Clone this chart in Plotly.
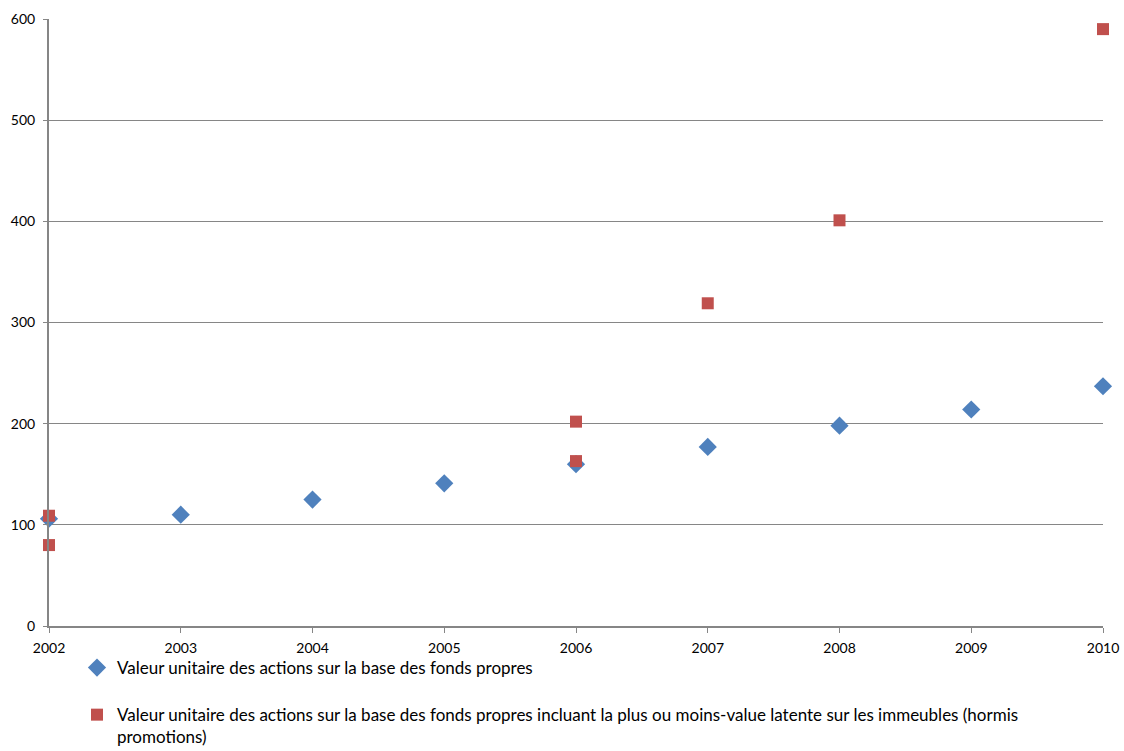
import plotly.graph_objects as go

# Share value by year (base: equity)
years_equity = [2002, 2003, 2004, 2005, 2006, 2007, 2008, 2009, 2010]
value_equity = [106, 110, 125, 141, 160, 177, 198, 214, 237]

# Share value including unrealised gains/losses on buildings
years_latent = [2002, 2002, 2006, 2006, 2007, 2008, 2010]
value_latent = [109, 80, 202, 163, 319, 401, 590]

name_equity = "Valeur unitaire des actions sur la base des fonds propres"
name_latent = ("Valeur unitaire des actions sur la base des fonds propres incluant la plus ou "
               "moins-value latente sur les immeubles (hormis<br>promotions)")

year_ticks = list(range(2002, 2011))
value_ticks = [0, 100, 200, 300, 400, 500, 600]

BLUE = "#4F81BD"
RED = "#C0504D"
AXIS = "#868686"

fig = go.Figure()
fig.add_trace(go.Scatter(
    x=years_equity, y=value_equity, mode="markers", name=name_equity,
    legendgroup="a",
    marker=dict(symbol="diamond", size=14, color=BLUE, line=dict(width=0)),
    cliponaxis=False,
))
fig.add_trace(go.Scatter(
    x=years_latent, y=value_latent, mode="markers", name=name_latent,
    legendgroup="b",
    marker=dict(symbol="square", size=12, color=RED, line=dict(width=0)),
    cliponaxis=False,
))

fig.update_layout(
    width=1124, height=751,
    margin=dict(l=49, r=21, t=19, b=125, autoexpand=False),
    paper_bgcolor="white", plot_bgcolor="white",
    font=dict(family="Lato, 'Open Sans', sans-serif", size=14, color="#000000"),
    showlegend=True,
    legend=dict(
        xref="container", yref="container",
        x=77 / 1124, y=1 - 650 / 751, xanchor="left", yanchor="top",
        orientation="v", valign="top",
        font=dict(size=17, color="#000000"),
        tracegroupgap=22, itemsizing="trace",
        bgcolor="rgba(0,0,0,0)",
    ),
    xaxis=dict(
        range=[2002, 2010], tickvals=year_ticks, ticktext=[str(y) for y in year_ticks],
        showgrid=False, zeroline=False, showline=True, linecolor=AXIS, linewidth=2,
        ticks="outside", ticklen=5, tickcolor=AXIS, tickfont=dict(size=14),
        ticklabelstandoff=3, automargin=False,
    ),
    yaxis=dict(
        range=[0, 600], tickvals=value_ticks,
        showgrid=True, gridcolor=AXIS, gridwidth=1,
        zeroline=False, showline=True, linecolor=AXIS, linewidth=2,
        ticks="outside", ticklen=4, tickcolor=AXIS, tickfont=dict(size=14),
        ticklabelstandoff=5, automargin=False,
    ),
)

fig.write_html("out.html")
